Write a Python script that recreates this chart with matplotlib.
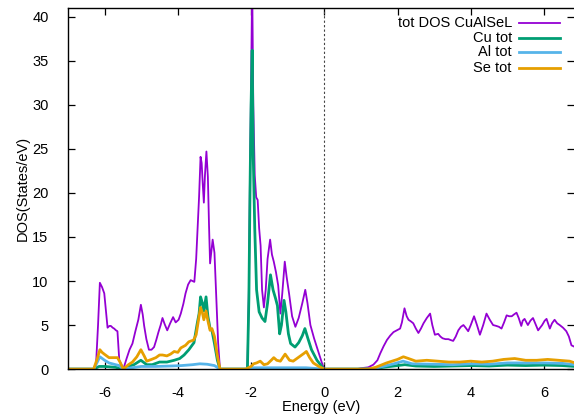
import matplotlib
matplotlib.use('agg')
from matplotlib import pyplot as plt

plt.rcParams['font.family'] = ['Liberation Sans', 'DejaVu Sans']
plt.rcParams['axes.unicode_minus'] = False

# total DOS
tot_e = [-7.0, -6.3, -6.24, -6.18, -6.13, -6.07, -6.01, -5.96, -5.92, -5.87, -5.83, -5.78, -5.74,
         -5.69, -5.65, -5.60, -5.49, -5.40, -5.32, -5.24, -5.16, -5.08, -5.01, -4.96, -4.92, -4.86,
         -4.79, -4.72, -4.65, -4.59, -4.53, -4.47, -4.42, -4.36, -4.29, -4.21, -4.13, -4.06, -3.98,
         -3.92, -3.85, -3.79, -3.72, -3.65, -3.60, -3.55, -3.50, -3.46, -3.42, -3.38, -3.35, -3.32,
         -3.29, -3.26, -3.22, -3.18, -3.15, -3.12, -3.08, -3.05, -3.00, -2.95, -2.90, -2.85, -2.10,
         -2.06, -2.03, -2.00, -1.97, -1.94, -1.90, -1.86, -1.82, -1.78, -1.74, -1.70, -1.65, -1.60,
         -1.55, -1.48, -1.43, -1.38, -1.32, -1.26, -1.20, -1.15, -1.08, -1.03, -0.96, -0.88, -0.79,
         -0.70, -0.60, -0.52, -0.46, -0.38, -0.28, -0.15, -0.05, 0.0, 0.9, 1.0, 1.2, 1.34, 1.45,
         1.53, 1.62, 1.71, 1.80, 1.89, 1.98, 2.07, 2.12, 2.19, 2.25, 2.30, 2.37, 2.43, 2.50, 2.57,
         2.64, 2.71, 2.80, 2.89, 2.95, 3.02, 3.11, 3.17, 3.23, 3.31, 3.39, 3.45, 3.52, 3.59, 3.66,
         3.73, 3.80, 3.86, 3.93, 4.00, 4.09, 4.17, 4.25, 4.34, 4.43, 4.52, 4.61, 4.70, 4.77, 4.84,
         4.91, 4.98, 5.05, 5.12, 5.18, 5.25, 5.31, 5.38, 5.42, 5.47, 5.52, 5.56, 5.63, 5.70, 5.77,
         5.84, 5.95, 6.02, 6.07, 6.12, 6.16, 6.22, 6.29, 6.36, 6.43, 6.52, 6.61, 6.68, 6.75, 6.85]
tot_dos = [0, 0, 0.1, 5.0, 9.8, 9.3, 8.6, 6.5, 4.7, 4.9, 4.9, 4.7, 4.6,
           4.4, 4.3, 1.0, 0, 1.2, 2.2, 2.9, 4.3, 5.6, 7.3, 6.2, 4.9, 3.4,
           2.2, 2.2, 2.5, 3.3, 4.2, 5.0, 5.8, 5.1, 4.4, 5.2, 5.9, 5.3, 5.6,
           6.3, 7.4, 8.6, 9.6, 10.1, 10.0, 9.9, 12.5, 16.0, 19.6, 24.1, 23.4, 21.0,
           18.9, 22.0, 24.7, 21.8, 16.5, 12.0, 13.5, 14.7, 13.2, 8.0, 3.0, 0, 0,
           9.0, 22.0, 32.0, 44.0, 30.0, 22.0, 19.5, 19.2, 16.0, 14.0, 9.0, 7.0, 9.0,
           12.5, 14.7, 13.0, 12.2, 11.0, 9.5, 6.3, 8.5, 12.2, 10.5, 8.5, 6.0, 4.8,
           5.8, 7.5, 9.0, 7.5, 5.0, 3.5, 1.8, 0.5, 0, 0, 0.1, 0.2, 0.5, 1.0,
           1.8, 2.6, 3.3, 3.8, 4.2, 4.4, 4.6, 5.3, 6.9, 6.0, 5.6, 5.4, 5.2, 4.6, 4.1,
           4.6, 5.2, 5.8, 6.3, 5.0, 3.9, 4.0, 3.7, 3.5, 3.4, 3.4, 3.3, 3.2, 3.7, 4.4,
           4.8, 5.0, 4.7, 4.3, 5.0, 6.0, 5.0, 3.9, 5.0, 6.3, 5.6, 5.0, 4.9, 4.8, 4.6,
           5.3, 6.1, 6.0, 6.0, 6.2, 6.4, 5.8, 4.9, 5.5, 5.7, 5.3, 5.0, 5.5, 5.8, 5.1,
           4.4, 5.0, 5.5, 5.7, 5.1, 4.6, 5.2, 5.6, 5.2, 5.0, 4.7, 4.3, 3.7, 2.7, 2.5]

# Cu
cu_e = [-7.0, -6.3, -6.15, -6.0, -5.7, -5.5, -5.35, -5.2, -5.01, -4.85, -4.7, -4.5, -4.3, -4.1,
        -3.95, -3.83, -3.7, -3.56, -3.47, -3.42, -3.38, -3.33, -3.29, -3.23, -3.18, -3.12, -3.07,
        -3.0, -2.92, -2.85, -2.10, -2.06, -2.03, -2.00, -1.97, -1.94, -1.90, -1.85, -1.78, -1.70,
        -1.62, -1.55, -1.47, -1.40, -1.33, -1.28, -1.22, -1.17, -1.10, -1.05, -0.98, -0.92, -0.80,
        -0.70, -0.60, -0.53, -0.45, -0.35, -0.20, -0.05, 0.0, 0.9, 1.4, 1.6, 1.9, 2.2, 2.5, 3.0,
        3.5, 4.0, 4.5, 5.0, 5.5, 6.0, 6.5, 6.85]
cu_dos = [0, 0, 0.3, 0.3, 0.2, 0, 0.3, 0.5, 1.0, 0.5, 0.5, 0.8, 0.8, 1.0,
          1.2, 1.6, 2.2, 3.0, 5.2, 6.3, 8.2, 7.5, 6.6, 8.2, 6.0, 4.6, 4.4,
          2.9, 1.0, 0, 0, 8.0, 20.0, 30.0, 36.2, 24.0, 16.0, 9.0, 6.5, 5.8,
          5.4, 7.5, 10.7, 9.0, 8.0, 7.2, 4.0, 5.0, 7.8, 6.5, 4.0, 2.9, 2.5,
          3.0, 3.8, 4.6, 3.5, 2.2, 1.0, 0.2, 0, 0, 0.05, 0.2, 0.35, 0.5, 0.35, 0.3,
          0.35, 0.4, 0.35, 0.45, 0.4, 0.45, 0.4, 0.3]

# Al
al_e = [-7.0, -6.3, -6.2, -6.13, -6.0, -5.88, -5.7, -5.6, -5.5, -5.35, -5.0, -4.6, -4.2, -3.9,
        -3.6, -3.4, -3.2, -3.0, -2.85, -2.1, -2.0, -1.5, -1.0, -0.5, 0.0, 1.3, 1.6, 1.9, 2.15,
        2.4, 3.0, 3.5, 4.0, 4.5, 5.0, 5.5, 6.0, 6.5, 6.85]
al_dos = [0, 0, 0.8, 1.4, 1.0, 0.7, 0.5, 0.4, 0, 0.1, 0.3, 0.3, 0.35, 0.4,
          0.5, 0.6, 0.55, 0.4, 0, 0, 0.15, 0.15, 0.15, 0.15, 0, 0, 0.3, 0.6, 0.9,
          0.6, 0.55, 0.5, 0.6, 0.55, 0.7, 0.7, 0.7, 0.65, 0.5]

# Se
se_e = [-7.0, -6.3, -6.2, -6.13, -6.07, -6.01, -5.88, -5.75, -5.65, -5.58, -5.49, -5.35, -5.24,
        -5.12, -5.01, -4.92, -4.85, -4.72, -4.6, -4.5, -4.42, -4.3, -4.2, -4.1, -4.0, -3.92, -3.79,
        -3.7, -3.57, -3.5, -3.42, -3.38, -3.33, -3.29, -3.23, -3.18, -3.12, -3.07, -3.0, -2.92,
        -2.85, -2.15, -2.0, -1.93, -1.85, -1.75, -1.65, -1.55, -1.45, -1.38, -1.3, -1.2, -1.07,
        -0.95, -0.85, -0.75, -0.65, -0.55, -0.49, -0.4, -0.3, -0.15, 0.0, 1.2, 1.4, 1.7, 2.0,
        2.16, 2.3, 2.5, 2.8, 3.1, 3.4, 3.7, 4.0, 4.3, 4.6, 4.9, 5.2, 5.5, 5.8, 6.1, 6.4, 6.7, 6.85]
se_dos = [0, 0, 1.2, 2.2, 1.9, 1.7, 1.3, 1.3, 1.3, 0.8, 0, 0.5, 0.8,
          1.4, 2.2, 1.5, 0.9, 1.1, 1.3, 1.6, 1.6, 1.5, 1.7, 2.0, 1.9, 2.4, 2.7,
          3.1, 3.3, 3.9, 6.0, 7.0, 6.4, 5.6, 6.6, 5.5, 4.4, 4.6, 3.7, 1.5,
          0, 0, 0.3, 0.6, 0.7, 0.9, 0.5, 0.6, 1.0, 1.3, 1.0, 0.9, 1.7,
          1.0, 0.9, 1.2, 1.5, 1.8, 2.0, 1.3, 0.7, 0.3, 0, 0, 0.2, 0.7, 1.1,
          1.4, 1.2, 0.9, 1.0, 0.9, 0.8, 0.8, 0.9, 0.8, 0.9, 1.1, 1.2, 1.0, 1.0, 1.1, 1.0, 0.9, 0.7]

labels = ['tot DOS CuAlSeL', 'Cu tot', 'Al tot', 'Se tot']
colors = ['#9400d3', '#009e73', '#56b4e9', '#e69f00']
widths = [1.3, 2.0, 2.0, 2.0]

fig = plt.figure(figsize=(5.74, 4.18), dpi=100)
ax = fig.add_axes([0.1185, 0.117, 0.8815, 0.864])

series = [(tot_e, tot_dos), (cu_e, cu_dos), (al_e, al_dos), (se_e, se_dos)]
for (e, d), c, lw in zip(series, colors, widths):
    ax.plot(e, d, color=c, lw=lw, solid_joinstyle='round')

ax.axvline(0, color='#444444', lw=0.8, ls=(0, (2, 2)))

ax.set_xlim(-7, 6.82)
ax.set_ylim(0, 41)
ax.set_xticks([-6, -4, -2, 0, 2, 4, 6])
ax.set_yticks(range(0, 41, 5))
ax.tick_params(direction='in', length=5, width=0.9, top=True, right=True, labelsize=10.5)
ax.tick_params(axis='x', pad=12)
ax.tick_params(axis='y', pad=14)
for s in ax.spines.values():
    s.set_linewidth(1.0)
ax.spines['right'].set_visible(False)

ax.set_xlabel('Energy (eV)', fontsize=10.5, labelpad=0)
ax.set_ylabel('DOS(States/eV)', fontsize=10.5, labelpad=2)

# gnuplot style key: right-justified text, sample to the right
key_y = [0.957, 0.918, 0.877, 0.835]
for lab, c, lw, y in zip(labels, colors, widths, key_y):
    ax.text(0.877, y, lab, transform=ax.transAxes, ha='right', va='center', fontsize=10.5)
    ax.plot([0.891, 0.972], [y, y], transform=ax.transAxes, color=c, lw=lw)

plt.savefig('out.png', dpi=100)
